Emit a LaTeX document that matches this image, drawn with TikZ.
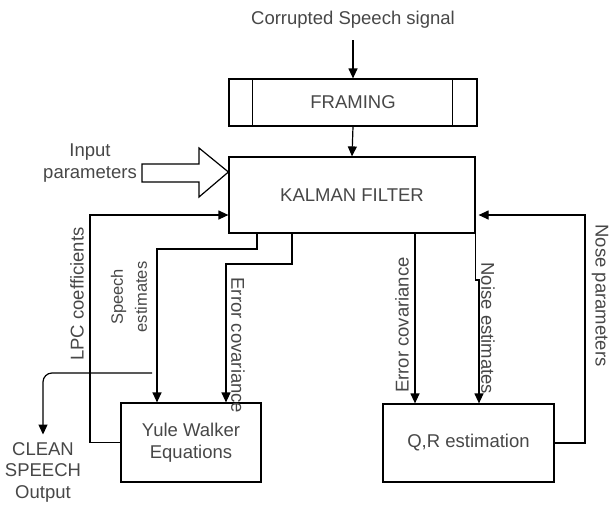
\documentclass[tikz,border=0pt]{standalone}
\usepackage{fontspec}
\setmainfont{Liberation Sans}
\usetikzlibrary{arrows.meta}
\begin{document}
\begin{tikzpicture}[x=1pt,y=-1pt,line width=1.2pt,
  font=\fontsize{18.5}{22}\selectfont,
  txt/.style={text=black!72,inner sep=1pt},
  blk/.style={draw,txt,align=center},
  arr/.style={-{Triangle[length=10pt,width=9pt]}}]
  \useasboundingbox (0,0) rectangle (610,504);

  \node[txt] (sig) at (353,20) {Corrupted Speech signal};
  \node[blk,minimum width=248,minimum height=47] (fram) at (353,102.5) {FRAMING};
  \draw ([xshift=24]fram.north west) -- ([xshift=24]fram.south west);
  \draw ([xshift=-25]fram.north east) -- ([xshift=-25]fram.south east);
  \node[blk,minimum width=246,minimum height=76] (kal) at (352,195) {KALMAN FILTER};
  \node[blk,minimum width=140,minimum height=79] (yule) at (191,442.5) {Yule Walker\\Equations};
  \node[blk,minimum width=171,minimum height=78] (qr) at (468.5,443) {Q,R estimation};

  \draw[arr] ([yshift=-10]sig.south) -- (fram.north);
  \draw[arr] (fram.south) -- (kal.north);

  \node[txt,align=center] (inp) at (90,163) {Input\\parameters};
  \draw (142,164) -- (199,164) -- (199,148) -- (kal.west |- 0,172)
  -- (199,197) -- (199,182) -- (142,182) -- cycle;

  \coordinate (lpc) at (90,215);
  \draw[arr] (yule.west) -| (lpc) -- (kal.west |- lpc);
  \node[txt,rotate=90] (lpclab) at (77,294) {LPC coefficients};

  \coordinate (se) at (157,249);
  \draw[arr] ([xshift=-95]kal.south) |- (se) -- (se |- yule.north);
  \node[txt,rotate=90,align=center,font=\fontsize{16.5}{24}\selectfont] (selab) at (129,297) {Speech\\estimates};

  \coordinate (ec) at (226,264);
  \draw[arr] ([xshift=-60]kal.south) |- (ec) -- (ec |- yule.north);
  \node[txt,rotate=-90,anchor=west] (eclab) at (238,276) {Error covariance};

  \coordinate (clean) at (152,373);
  \node[txt,align=center,font=\fontsize{18.5}{21.5}\selectfont] (out) at (43,472) {CLEAN\\SPEECH\\Output};
  \draw[arr,rounded corners=9] (clean) -| ([yshift=6]out.north);

  \draw[arr] ([xshift=63]kal.south) -- ([xshift=63]kal.south |- qr.north);
  \node[txt,rotate=90] (ec2lab) at (402,325) {Error covariance};

  \coordinate (ne) at (479,280);
  \draw[arr] (kal.south east) -- (kal.south east |- ne) -- (ne) -- (ne |- qr.north);
  \node[txt,rotate=-90,anchor=west] (nelab) at (488,261) {Noise estimates};

  \coordinate (np) at (585,215);
  \draw[arr] (qr.east) -| (np) -- ([xshift=3]kal.east |- np);
  \node[txt,rotate=-90,anchor=west,inner sep=0pt] (nplab) at (600,224) {Nose parameters};
\end{tikzpicture}
\end{document}
